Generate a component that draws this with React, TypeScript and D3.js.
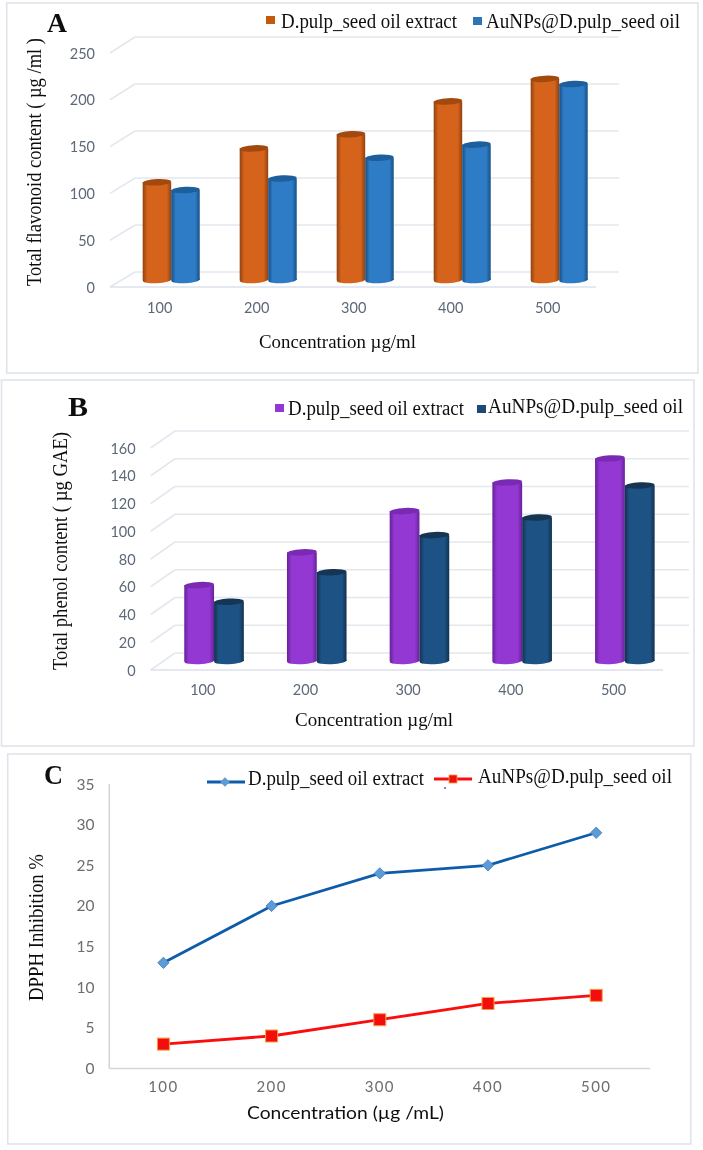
import React from "react";
import * as d3 from "d3";

const categories = ["100", "200", "300", "400", "500"];
const flavonoidExtract = [104, 140, 155, 190, 214];
const flavonoidAu = [95.7, 108, 130, 144, 208.5];
const phenolExtract = [54.7, 78.3, 108, 128.7, 146];
const phenolAu = [42.7, 64, 90.7, 103.4, 126.5];
const dpphExtract = [13, 20, 24, 25, 29];
const dpphAu = [3, 4, 6, 8, 9];
const seriesNames = ["D.pulp_seed oil extract", "AuNPs@D.pulp_seed oil"];

const SERIF = "'Liberation Serif', serif";
const SANS = "Lato, 'Open Sans', sans-serif";
const TICK = "#5d6878";

function Stretch({ x, y, w, size, text, fill = "#111", family = SERIF, weight = 400 }: any) {
  return (
    <text x={x} y={y} fontFamily={family} fontSize={size} fontWeight={weight} fill={fill} textLength={w} lengthAdjust="spacingAndGlyphs">
      {text}
    </text>
  );
}

function VStretch({ x, y, w, size, text, fill = "#111", family = SERIF }: any) {
  return (
    <text transform={`translate(${x},${y}) rotate(-90)`} fontFamily={family} fontSize={size} fill={fill} textLength={w} lengthAdjust="spacingAndGlyphs">
      {text}
    </text>
  );
}

function Gradient({ id, edge, mid }: any) {
  return (
    <linearGradient id={id} x1="0" x2="1" y1="0" y2="0">
      <stop offset="0" stopColor={edge} />
      <stop offset="0.16" stopColor={mid} />
      <stop offset="0.84" stopColor={mid} />
      <stop offset="1" stopColor={edge} />
    </linearGradient>
  );
}

function Cylinder({ x, w, top, base, grad, cap }: any) {
  const cx = x + w / 2;
  const rx = w / 2;
  const ry = 3.2;
  return (
    <g>
      <ellipse cx={cx} cy={base} rx={rx} ry={ry} fill={`url(#${grad})`} transform={`rotate(-3 ${cx} ${base})`} />
      <rect x={x} y={top} width={w} height={base - top} fill={`url(#${grad})`} />
      <ellipse cx={cx} cy={top} rx={rx} ry={ry} fill={cap} transform={`rotate(-3 ${cx} ${top})`} />
    </g>
  );
}

function Panel3D({ c }: any) {
  const front = d3.scaleLinear().domain([0, c.max]).range([c.front0, c.frontMax]);
  const back = d3.scaleLinear().domain([0, c.max]).range([c.back0, c.backMax]);
  const mid = d3.scaleLinear().domain([0, c.max]).range([c.base, c.base - (c.back0 - c.backMax)]);
  const groups = d3.scaleBand().domain(categories).range([c.barStart, c.barStart + c.step * 5]).paddingInner(c.padding).paddingOuter(c.padding / 2);
  const inner = d3.scaleBand().domain(["a", "b"]).range([0, groups.bandwidth()]);
  const ticks = front.ticks(c.tickCount);
  const series = [
    { key: "a", values: c.a, grad: c.id + "a", cap: c.capA },
    { key: "b", values: c.b, grad: c.id + "b", cap: c.capB },
  ];
  return (
    <g>
      <defs>
        <Gradient id={c.id + "a"} edge={c.edgeA} mid={c.midA} />
        <Gradient id={c.id + "b"} edge={c.edgeB} mid={c.midB} />
      </defs>
      {ticks.map((t: number) => (
        <g key={t} stroke="#e3e7ee" strokeWidth={1.6} fill="none">
          <line x1={c.frontX} y1={front(t)} x2={c.backX} y2={back(t)} />
          <line x1={c.backX} y1={back(t)} x2={c.backRight} y2={back(t)} />
        </g>
      ))}
      <line x1={c.frontX} y1={c.front0} x2={c.frontRight} y2={c.front0} stroke="#dde1e8" strokeWidth={1.6} />
      {ticks.map((t: number) => (
        <text key={t} x={c.tickEnd} y={front(t) + 5.5} textAnchor="end" fontFamily={SANS} fontSize={14.5} fill={TICK}>
          {t}
        </text>
      ))}
      {categories.map((cat) => (
        <text key={cat} x={(groups(cat) as number) + groups.bandwidth() / 2 + c.labelShift} y={c.xTickY} textAnchor="middle" fontFamily={SANS} fontSize={14.5} fill={TICK}>
          {cat}
        </text>
      ))}
      {categories.map((cat, i) =>
        series.map((s) => (
          <Cylinder
            key={cat + s.key}
            x={(groups(cat) as number) + (inner(s.key) as number)}
            w={inner.bandwidth()}
            top={mid(s.values[i])}
            base={c.base}
            grad={s.grad}
            cap={s.cap}
          />
        ))
      )}
    </g>
  );
}

const panelA = {
  id: "pa", max: 250, tickCount: 5, front0: 287, frontMax: 53, back0: 272, backMax: 37, base: 280,
  frontX: 110, backX: 135, backRight: 619, frontRight: 596, tickEnd: 95, xTickY: 313, labelShift: -11.5,
  barStart: 122.7, step: 97, padding: 0.412,
  a: flavonoidExtract, b: flavonoidAu,
  edgeA: "#8f4210", midA: "#d5641a", capA: "#a3490f", edgeB: "#174f86", midB: "#2f7cc6", capB: "#1f5f9c",
};
const panelB = {
  id: "pb", max: 160, tickCount: 8, front0: 670, frontMax: 448, back0: 653, backMax: 431, base: 661,
  frontX: 150.7, backX: 175, backRight: 689, frontRight: 663, tickEnd: 135.7, xTickY: 695, labelShift: -11.3,
  barStart: 162.7, step: 102.7, padding: 0.42,
  a: phenolExtract, b: phenolAu,
  edgeA: "#66219a", midA: "#9339d2", capA: "#7a2cb2", edgeB: "#0f3150", midB: "#1f5384", capB: "#123654",
};

function PanelC() {
  const x = d3.scaleBand().domain(categories).range([109.3, 650.3]);
  const y = d3.scaleLinear().domain([0, 35]).range([1068.5, 784]);
  const px = (c: string) => (x(c) as number) + x.bandwidth() / 2;
  const line = d3.line<number>().x((_, i) => px(categories[i])).y((d) => y(d));
  const diamond = d3.symbol().type(d3.symbolSquare).size(64)() as string;
  const ticks = y.ticks(7);
  return (
    <g>
      <line x1={109.3} y1={784} x2={109.3} y2={1068.5} stroke="#d6d6d6" strokeWidth={1.6} />
      <line x1={109.3} y1={1068.5} x2={650.3} y2={1068.5} stroke="#d6d6d6" strokeWidth={1.6} />
      {ticks.map((t) => (
        <text key={t} x={94.5} y={y(t) + 5.5} textAnchor="end" fontFamily={SANS} fontSize={15.5} fill="#6d6d6d">
          {t}
        </text>
      ))}
      {categories.map((c) => (
        <text key={c} x={px(c)} y={1092} textAnchor="middle" fontFamily={SANS} fontSize={15} letterSpacing={1.4} fill="#6d6d6d">
          {c}
        </text>
      ))}
      <path d={line(dpphExtract) as string} fill="none" stroke="#0f5cab" strokeWidth={2.8} />
      <path d={line(dpphAu) as string} fill="none" stroke="#fb0d0d" strokeWidth={2.8} />
      {dpphExtract.map((v, i) => (
        <path key={i} d={diamond} transform={`translate(${px(categories[i])},${y(v)}) rotate(45)`} fill="#5b9bd5" stroke="#3f80bf" strokeWidth={0.8} />
      ))}
      {dpphAu.map((v, i) => (
        <rect key={i} x={px(categories[i]) - 6} y={y(v) - 6} width={12} height={12} fill="#f40d0d" stroke="#f0a040" strokeWidth={1} />
      ))}
      <line x1={207} y1={782} x2={245} y2={782} stroke="#0f5cab" strokeWidth={2.8} />
      <path d={diamond} transform="translate(225,782) rotate(45) scale(0.85)" fill="#5b9bd5" />
      <line x1={434} y1={779} x2={472} y2={779} stroke="#fb0d0d" strokeWidth={2.8} />
      <rect x={449} y={775} width={8} height={8} fill="#f40d0d" stroke="#f0a040" strokeWidth={0.8} />
      <circle cx={445} cy={788} r={0.9} fill="#1f5f9c" />
    </g>
  );
}

export default function App() {
  return (
    <svg width={703} height={1150} viewBox="0 0 703 1150" style={{ position: "absolute", left: 0, top: 0, background: "#fff" }}>
      <defs>
        <filter id="soft" x="0" y="0" width="100%" height="100%">
          <feGaussianBlur stdDeviation="0.45" />
        </filter>
      </defs>
      <g filter="url(#soft)">
        <rect x={0} y={0} width={703} height={1150} fill="#fff" />
        <g fill="none" stroke="#e0e4ea" strokeWidth={1.6}>
          <rect x={6.7} y={3} width={691.3} height={370} />
          <rect x={1.5} y={380} width={692.5} height={366} />
          <rect x={7.7} y={754} width={683} height={390} />
        </g>

        {/* Panel A */}
        <Panel3D c={panelA} />
        <Stretch x={47} y={32} w={20} size={27} weight={700} text="A" />
        <rect x={266} y={16} width={9} height={8} fill="#c55a11" />
        <Stretch x={281} y={27.5} w={176} size={20} text={seriesNames[0]} />
        <rect x={473} y={17} width={9} height={8} fill="#2e75b6" />
        <Stretch x={486} y={27.5} w={194} size={20} text={seriesNames[1]} />
        <VStretch x={41} y={286} w={248} size={21} text="Total flavonoid content ( µg /ml )" />
        <Stretch x={259} y={348} w={157} size={19} text="Concentration µg/ml" />

        {/* Panel B */}
        <Panel3D c={panelB} />
        <Stretch x={68} y={416} w={20} size={27} weight={700} text="B" />
        <rect x={275} y={404} width={9} height={8} fill="#9339d2" />
        <Stretch x={288} y={414.5} w={176} size={20} text={seriesNames[0]} />
        <rect x={477} y={405} width={9} height={8} fill="#1a4a75" />
        <Stretch x={488} y={412.5} w={195} size={20} text={seriesNames[1]} />
        <VStretch x={66.7} y={670} w={238} size={21} text="Total phenol content ( µg GAE)" />
        <Stretch x={295} y={726} w={158} size={19} text="Concentration µg/ml" />

        {/* Panel C */}
        <PanelC />
        <Stretch x={44} y={784} w={19} size={27} weight={700} text="C" />
        <Stretch x={248} y={784.5} w={176} size={20} text={seriesNames[0]} />
        <Stretch x={478} y={783} w={194} size={20} text={seriesNames[1]} />
        <VStretch x={42.7} y={1001} w={147} size={20} text="DPPH  Inhibition %" />
        <Stretch x={247} y={1119} w={197} size={18} family={SANS} text="Concentration (µg /mL)" />
      </g>
    </svg>
  );
}
